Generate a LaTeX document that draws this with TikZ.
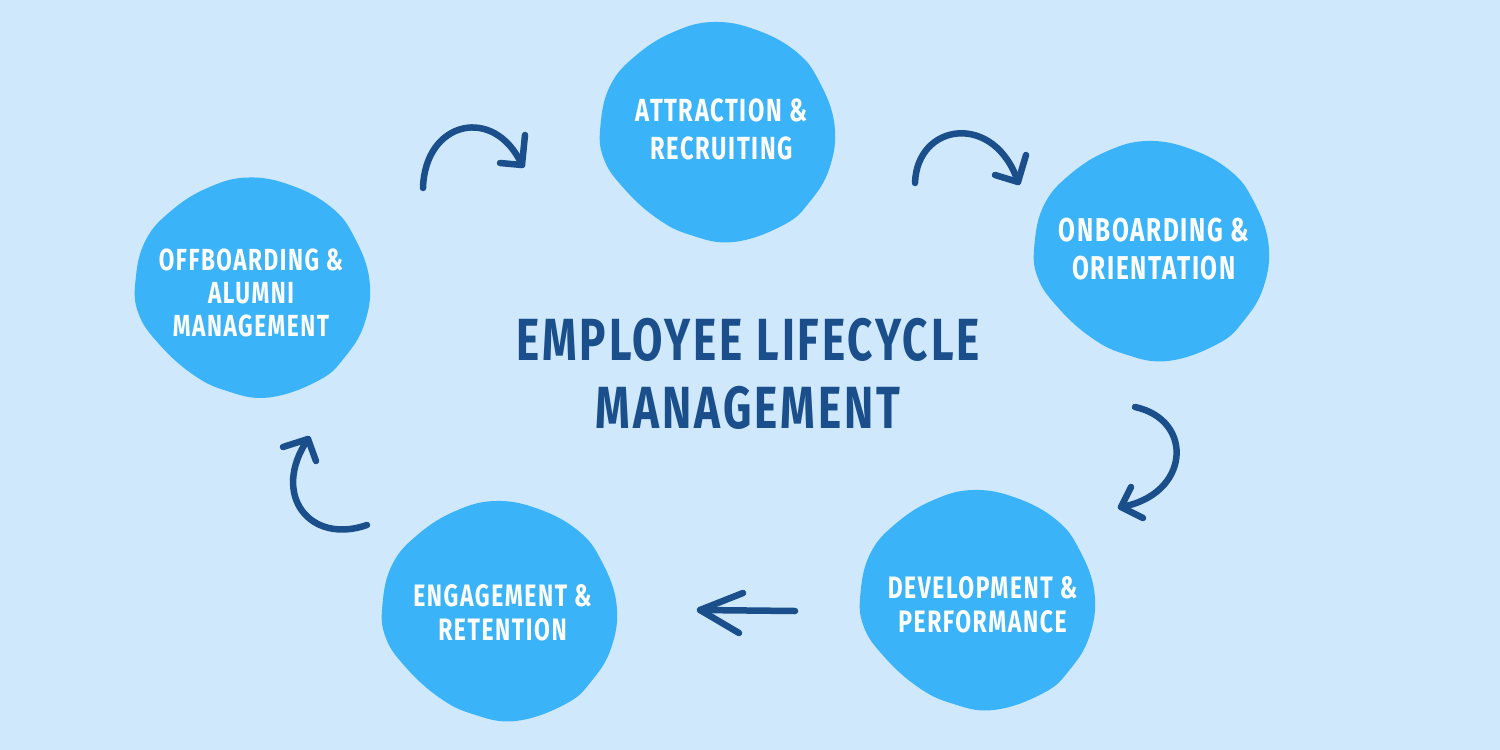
\documentclass[tikz,border=0pt]{standalone}
\usepackage{fontspec}
\newfontfamily\hand[FakeStretch=0.74, LetterSpace=5]{Fira Sans}
\definecolor{bgc}{HTML}{CFE8FC}
\definecolor{blobc}{HTML}{3BB3F9}
\definecolor{darkc}{HTML}{1A4F8B}
\tikzset{
  blob/.pic={\fill[blobc] plot[smooth cycle, tension=0.7] coordinates {(-4,-110) (39,-102) (79,-80) (102,-50) (117,-7) (112,36) (92,70) (66,93) (16,110) (-27,103) (-61,86) (-94,56) (-114,26) (-117,-7) (-107,-47) (-81,-77) (-44,-100)};},
  stage/.style={text=white, align=center, inner sep=0pt, font=\hand\bfseries\fontsize{32}{37.5}\selectfont},
  title/.style={text=darkc, align=center, inner sep=0pt, font=\hand\bfseries\fontsize{59.5}{68}\selectfont},
  arr/.style={draw=darkc, line width=6.5pt, line cap=round, line join=round}
}
\begin{document}
\begin{tikzpicture}[x=1pt,y=-1pt]
\useasboundingbox (0,0) rectangle (1500,750);
\fill[bgc] (0,0) rectangle (1500,750);
% blobs
\pic at (717.5,132) {blob};
\pic at (1151.5,251) {blob};
\pic at (252.5,287.5) {blob};
\pic at (977.5,600) {blob};
\pic at (499.5,611) {blob};
% stage texts
\node[stage] (attr) at (721.5,129.5) {ATTRACTION \&\\RECRUITING};
\node[stage, font=\hand\bfseries\fontsize{33}{37.5}\selectfont] (onb) at (1154,249) {ONBOARDING \&\\ORIENTATION};
\node[stage, font=\hand\bfseries\fontsize{30.5}{33}\selectfont] (offb) at (251,292.5) {OFFBOARDING \&\\ALUMNI\\MANAGEMENT};
\node[stage, font=\hand\bfseries\fontsize{31}{34}\selectfont] (dev) at (982.5,605) {DEVELOPMENT \&\\PERFORMANCE};
\node[stage, font=\hand\bfseries\fontsize{31}{34}\selectfont] (eng) at (502.5,613) {ENGAGEMENT \&\\RETENTION};
\node[title] (ttl) at (748,373.5) {EMPLOYEE LIFECYCLE\\MANAGEMENT};
% arrow 1
\coordinate (a1s) at (423,188); \coordinate (a1t) at (522,165);
\coordinate (a1l) at (500,163); \coordinate (a1r) at (525,135);
\draw[arr] (a1s) .. controls (425,120) and (495,105) .. (a1t);
\draw[arr] (a1l) -- (a1t) -- (a1r);
% arrow 2
\coordinate (a2s) at (915,183); \coordinate (a2t) at (1018,182);
\coordinate (a2l) at (995,175); \coordinate (a2r) at (1026,155);
\draw[arr] (a2s) .. controls (917,122) and (995,112) .. (a2t);
\draw[arr] (a2l) -- (a2t) -- (a2r);
% arrow 3
\coordinate (a3s) at (1135,407); \coordinate (a3t) at (1121,507);
\coordinate (a3l) at (1131,487); \coordinate (a3r) at (1143,518);
\draw[arr] (a3s) .. controls (1195,420) and (1190,495) .. (a3t);
\draw[arr] (a3l) -- (a3t) -- (a3r);
% arrow 4
\coordinate (a4s) at (795,611); \coordinate (a4t) at (700,610);
\coordinate (a4l) at (743,593); \coordinate (a4r) at (739,633);
\draw[arr] (a4s) -- (a4t);
\draw[arr] (a4l) -- (a4t) -- (a4r);
% arrow 5
\coordinate (a5s) at (367,525); \coordinate (a5t) at (308,439);
\coordinate (a5l) at (283,447); \coordinate (a5r) at (316,461);
\draw[arr] (a5s) .. controls (310,545) and (270,495) .. (a5t);
\draw[arr] (a5l) -- (a5t) -- (a5r);
\end{tikzpicture}
\end{document}
